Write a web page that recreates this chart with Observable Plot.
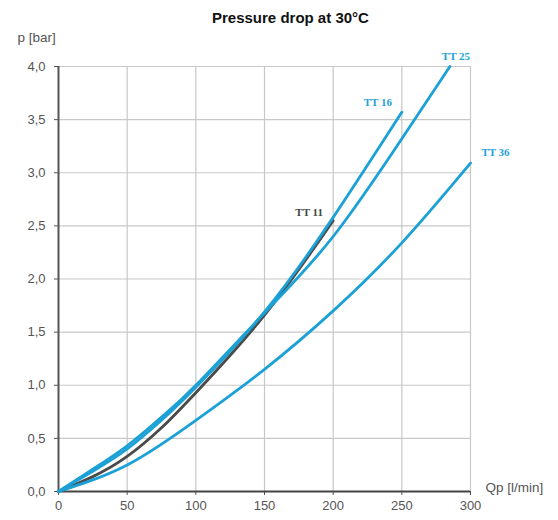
<!DOCTYPE html>
<html>
<head>
<meta charset="utf-8">
<script src="https://cdn.jsdelivr.net/npm/d3@7"></script>
<script src="https://cdn.jsdelivr.net/npm/@observablehq/plot@0.6"></script>
<style>
  body { margin: 0; background: #fff; font-family: "Liberation Sans", Arial, sans-serif; }
  #wrap { position: relative; width: 558px; height: 520px; }
  #title { position: absolute; top: 9px; left: 212px; font-weight: bold; font-size: 15px; line-height: 18px; color: #111; }
  #chart { position: absolute; top: 0; left: 0; }
</style>
</head>
<body>
<div id="wrap">
  <div id="chart"></div>
  <div id="title">Pressure drop at 30°C</div>
</div>
<script>
// Flow Qp [l/min] and pressure drop p [bar]
const tt11Q = [0, 25, 50, 75, 100, 150, 200];
const tt11P = [0, 0.14, 0.33, 0.60, 0.93, 1.66, 2.55];
const tt16Q = [0, 25, 50, 75, 100, 150, 200, 250];
const tt16P = [0, 0.19, 0.40, 0.67, 0.98, 1.69, 2.58, 3.57];
const tt25Q = [0, 25, 50, 75, 100, 150, 200, 250, 285];
const tt25P = [0, 0.21, 0.43, 0.70, 1.00, 1.68, 2.40, 3.32, 4.0];
const tt36Q = [0, 50, 100, 150, 200, 250, 300];
const tt36P = [0, 0.25, 0.67, 1.15, 1.70, 2.34, 3.09];

const xTicks = [0, 50, 100, 150, 200, 250, 300];
const yTicks = [0, 0.5, 1, 1.5, 2, 2.5, 3, 3.5, 4];

const toRows = (name, Q, P) => Q.map((q, i) => ({name, q, p: P[i]}));
const tt11 = toRows("TT 11", tt11Q, tt11P);
const tt16 = toRows("TT 16", tt16Q, tt16P);
const tt25 = toRows("TT 25", tt25Q, tt25P);
const tt36 = toRows("TT 36", tt36Q, tt36P);
const last = a => [a[a.length - 1]];

const blue = "#1ca1d6";
const dark = "#4a4a4a";
const fmt = d => d3.format(".1f")(d).replace(".", ",");
const lblFont = { fontSize: 11, fontWeight: "bold", fontFamily: "Liberation Serif, serif" };

const chart = Plot.plot({
  width: 558,
  height: 520,
  marginLeft: 58,
  marginRight: 88,
  marginTop: 66,
  marginBottom: 29,
  style: { fontFamily: "Liberation Sans, Arial, sans-serif", background: "#fff" },
  x: { domain: [0, 300], ticks: xTicks },
  y: { domain: [0, 4], ticks: yTicks },
  marks: [
    Plot.gridX(xTicks.slice(1), { stroke: "#c8c8c8", strokeOpacity: 1, strokeWidth: 1.2 }),
    Plot.gridY(yTicks.slice(1), { stroke: "#c8c8c8", strokeOpacity: 1, strokeWidth: 1.2 }),
    Plot.axisX(xTicks, { tickSize: 4, tickPadding: 5, fontSize: 13, fill: "#555", stroke: "#555", tickFormat: d => d, label: null }),
    Plot.axisY(yTicks, { tickSize: 4, tickPadding: 9, fontSize: 13, fill: "#555", stroke: "#555", tickFormat: fmt, label: null }),
    Plot.ruleX([0], { stroke: "#555", strokeWidth: 2 }),
    Plot.ruleY([0], { stroke: "#444", strokeWidth: 2 }),
    Plot.line(tt11, { x: "q", y: "p", stroke: dark, strokeWidth: 2.8, curve: "natural" }),
    Plot.line(tt36, { x: "q", y: "p", stroke: blue, strokeWidth: 2.8, curve: "natural" }),
    Plot.line(tt25, { x: "q", y: "p", stroke: blue, strokeWidth: 2.8, curve: "natural" }),
    Plot.line(tt16, { x: "q", y: "p", stroke: blue, strokeWidth: 2.8, curve: "natural" }),
    Plot.text(last(tt25), { x: "q", y: "p", text: "name", dx: 6, dy: -10, fill: blue, ...lblFont }),
    Plot.text(last(tt16), { x: "q", y: "p", text: "name", dx: -24, dy: -10, fill: blue, ...lblFont }),
    Plot.text(last(tt36), { x: "q", y: "p", text: "name", dx: 25, dy: -11, fill: blue, ...lblFont }),
    Plot.text(last(tt11), { x: "q", y: "p", text: "name", dx: -24, dy: -8, fill: "#444", ...lblFont }),
    Plot.text(["p [bar]"], { frameAnchor: "top-left", dx: -41, dy: -34, fill: "#555", fontSize: 13.5, textAnchor: "start" }),
    Plot.text(["Qp [l/min]"], { frameAnchor: "bottom-right", dx: 15, dy: 0, fill: "#555", fontSize: 13.5, textAnchor: "start" })
  ]
});
document.getElementById("chart").appendChild(chart);
</script>
</body>
</html>
